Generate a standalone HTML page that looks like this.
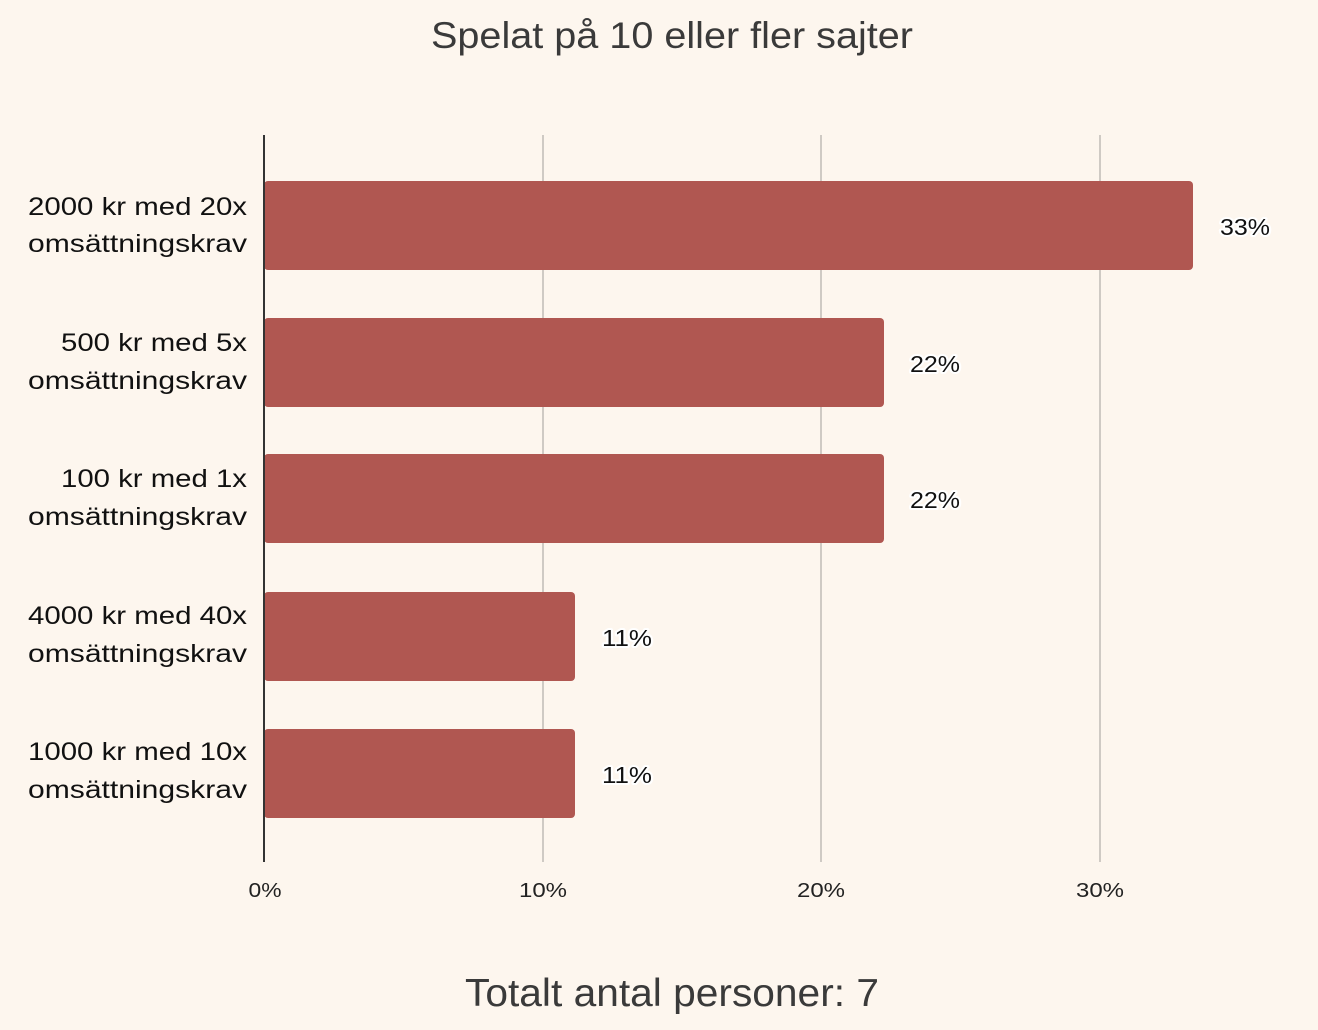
<!DOCTYPE html>
<html><head><meta charset="utf-8">
<style>
html,body{margin:0;padding:0;background:#fdf6ee;}
svg{display:block;}
text{font-family:"Liberation Sans","DejaVu Sans",sans-serif;}
.lab{font-size:25px;fill:#111;text-anchor:end;}
.val{font-size:23px;fill:#111;stroke:#fff;stroke-width:4px;paint-order:stroke;stroke-linejoin:round;}
.tick{font-size:20px;fill:#222;text-anchor:middle;}
</style></head><body>
<svg width="1318" height="1030" viewBox="0 0 1318 1030" xmlns="http://www.w3.org/2000/svg">
<rect width="1318" height="1030" fill="#fdf6ee"/>
<text x="672" y="48" font-size="37" fill="#3a3a3a" text-anchor="middle" textLength="482" lengthAdjust="spacingAndGlyphs">Spelat på 10 eller fler sajter</text>
<g stroke="#cfcac4" stroke-width="2">
<line x1="543" y1="135" x2="543" y2="862"/>
<line x1="821" y1="135" x2="821" y2="862"/>
<line x1="1100" y1="135" x2="1100" y2="862"/>
</g>
<g fill="#b05751">
<rect x="264" y="181" width="929" height="89" rx="4"/>
<rect x="264" y="318" width="620" height="89" rx="4"/>
<rect x="264" y="454" width="620" height="89" rx="4"/>
<rect x="264" y="592" width="311" height="89" rx="4"/>
<rect x="264" y="729" width="311" height="89" rx="4"/>
</g>
<line x1="264" y1="135" x2="264" y2="862" stroke="#333" stroke-width="2"/>
<g class="lab">
<text class="lab" x="247" y="215" textLength="219" lengthAdjust="spacingAndGlyphs">2000 kr med 20x</text>
<text class="lab" x="247" y="252" textLength="219" lengthAdjust="spacingAndGlyphs">omsättningskrav</text>
<text class="lab" x="247" y="351" textLength="186" lengthAdjust="spacingAndGlyphs">500 kr med 5x</text>
<text class="lab" x="247" y="389" textLength="219" lengthAdjust="spacingAndGlyphs">omsättningskrav</text>
<text class="lab" x="247" y="487" textLength="186" lengthAdjust="spacingAndGlyphs">100 kr med 1x</text>
<text class="lab" x="247" y="525" textLength="219" lengthAdjust="spacingAndGlyphs">omsättningskrav</text>
<text class="lab" x="247" y="624" textLength="219" lengthAdjust="spacingAndGlyphs">4000 kr med 40x</text>
<text class="lab" x="247" y="662" textLength="219" lengthAdjust="spacingAndGlyphs">omsättningskrav</text>
<text class="lab" x="247" y="760" textLength="219" lengthAdjust="spacingAndGlyphs">1000 kr med 10x</text>
<text class="lab" x="247" y="798" textLength="219" lengthAdjust="spacingAndGlyphs">omsättningskrav</text>
</g>
<text class="val" x="1220" y="235" textLength="50" lengthAdjust="spacingAndGlyphs">33%</text>
<text class="val" x="910" y="372" textLength="50" lengthAdjust="spacingAndGlyphs">22%</text>
<text class="val" x="910" y="508" textLength="50" lengthAdjust="spacingAndGlyphs">22%</text>
<text class="val" x="602" y="646" textLength="50" lengthAdjust="spacingAndGlyphs">11%</text>
<text class="val" x="602" y="783" textLength="50" lengthAdjust="spacingAndGlyphs">11%</text>
<text class="tick" x="265" y="897" textLength="33" lengthAdjust="spacingAndGlyphs">0%</text>
<text class="tick" x="543" y="897" textLength="48" lengthAdjust="spacingAndGlyphs">10%</text>
<text class="tick" x="821" y="897" textLength="48" lengthAdjust="spacingAndGlyphs">20%</text>
<text class="tick" x="1100" y="897" textLength="48" lengthAdjust="spacingAndGlyphs">30%</text>
<text x="672" y="1006" font-size="39" fill="#3a3a3a" text-anchor="middle" textLength="414" lengthAdjust="spacingAndGlyphs">Totalt antal personer: 7</text>
</svg>
</body></html>
